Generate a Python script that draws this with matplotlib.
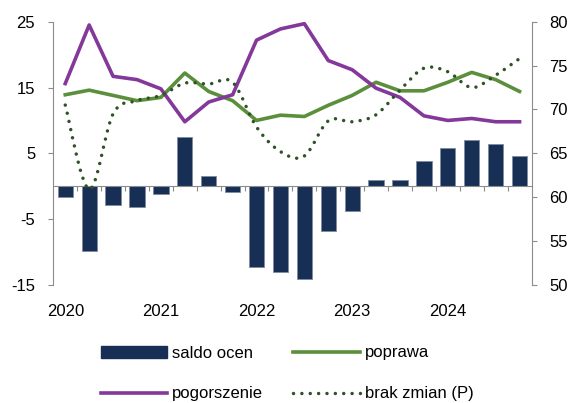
import numpy as np
import matplotlib
matplotlib.use("Agg")
import matplotlib.pyplot as plt
from matplotlib.path import Path
from matplotlib.patches import PathPatch, Patch
from matplotlib.lines import Line2D

# Quarterly survey results, 2020 Q1 - 2024 Q4
quarters = [f"{y} Q{q}" for y in range(2020, 2025) for q in range(1, 5)]
year_labels = ["2020", "2021", "2022", "2023", "2024"]

saldo = [-1.7, -9.9, -2.9, -3.2, -1.2, 7.5, 1.6, -0.9, -12.2, -13.1,
         -14.1, -6.8, -3.8, 0.9, 1.0, 3.8, 5.8, 7.0, 6.4, 4.6]
poprawa = [13.9, 14.6, 13.8, 13.0, 13.5, 17.2, 14.4, 13.0, 10.0, 10.8,
           10.6, 12.3, 13.8, 15.8, 14.5, 14.5, 15.8, 17.3, 16.2, 14.4]
pogorszenie = [15.6, 24.5, 16.7, 16.2, 14.8, 9.8, 12.8, 13.9, 22.2, 23.9,
               24.7, 19.1, 17.7, 14.9, 13.5, 10.7, 10.0, 10.3, 9.8, 9.8]
brak_zmian = [70.5, 60.9, 69.5, 71.0, 71.6, 73.0, 72.9, 73.1, 68.0, 65.2,
              64.7, 68.7, 68.6, 69.4, 72.2, 74.7, 74.3, 72.5, 73.9, 75.8]

NAVY = "#172E55"
GREEN = "#5B8F3C"
PURPLE = "#84389A"
DOT = "#2E5327"
GRAY = "#8C8C8C"

plt.rcParams["font.family"] = ["Liberation Sans", "DejaVu Sans"]
FS = 12.0

W, H = 569, 403
fig = plt.figure(figsize=(W / 100, H / 100), dpi=100)
x0, x1, ytop, ybot = 53.3, 531.5, 21.7, 285.0
ax = fig.add_axes([x0 / W, 1 - ybot / H, (x1 - x0) / W, (ybot - ytop) / H])
ax2 = ax.twinx()

x = np.arange(len(quarters))

ax.bar(x, saldo, width=0.64, color=NAVY, edgecolor="#7f8ba0", linewidth=0.6, zorder=2)
ax.plot(x, poprawa, color=GREEN, lw=2.6, solid_joinstyle="round", zorder=3)
ax.plot(x, pogorszenie, color=PURPLE, lw=2.6, solid_joinstyle="round", zorder=3)


def smooth_path(xs, ys):
    pts = np.column_stack([xs, ys]).astype(float)
    n = len(pts)
    verts = [pts[0]]
    codes = [Path.MOVETO]
    for i in range(n - 1):
        p0 = pts[i - 1] if i > 0 else pts[i]
        p1, p2 = pts[i], pts[i + 1]
        p3 = pts[i + 2] if i + 2 < n else pts[i + 1]
        verts += [p1 + (p2 - p0) / 6, p2 - (p3 - p1) / 6, p2]
        codes += [Path.CURVE4] * 3
    return Path(verts, codes)


dot_style = (0, (0.01, 2.4))
ax2.add_patch(PathPatch(smooth_path(x, brak_zmian), fill=False, edgecolor=DOT,
                        lw=2.5, linestyle=dot_style, capstyle="round", zorder=3))

# left axis
ax.set_xlim(-0.5, len(quarters) - 0.5)
ax.set_ylim(-15, 25)
ax.set_yticks([-15, -5, 5, 15, 25])
ax.set_yticklabels(["-15", "-5", "5", "15", "25"])
ax2.set_ylim(50, 80)
ax2.set_yticks([50, 55, 60, 65, 70, 75, 80])

for a in (ax, ax2):
    for s in a.spines.values():
        s.set_visible(False)
    a.patch.set_visible(False)

ax.spines["left"].set_visible(True)
ax.spines["left"].set_color(GRAY)
ax.spines["bottom"].set_visible(True)
ax.spines["bottom"].set_position(("data", 0))
ax.spines["bottom"].set_color(GRAY)
ax2.spines["right"].set_visible(True)
ax2.spines["right"].set_color(GRAY)

ax.tick_params(axis="y", direction="out", length=3.6, width=0.8, color=GRAY,
               pad=9.4, labelsize=FS)
ax2.tick_params(axis="y", direction="out", length=3.6, width=0.8, color=GRAY,
                pad=9.0, labelsize=FS)

# category boundaries on the zero line
ax.set_xticks(np.arange(0.5, len(quarters) - 1, 1.0))
ax.set_xticklabels([])
ax.tick_params(axis="x", direction="out", length=3.6, width=0.8, color=GRAY)

# year labels under the plot area
sec = ax.secondary_xaxis("bottom")
sec.set_xticks(x[::4])
sec.set_xticklabels(year_labels)
sec.tick_params(axis="x", length=0, pad=13.5, labelsize=FS)
sec.spines["bottom"].set_visible(False)

handles = [
    Patch(facecolor=NAVY, edgecolor=NAVY),
    Line2D([], [], color=PURPLE, lw=2.6),
    Line2D([], [], color=GREEN, lw=2.6),
    Line2D([], [], color=DOT, lw=2.5, linestyle=dot_style, dash_capstyle="round"),
]
labels = ["saldo ocen", "pogorszenie", "poprawa", "brak zmian (P)"]
fig.legend(handles, labels, ncol=2, loc="upper left",
           bbox_to_anchor=(100.5 / W, 1 - 345.5 / H), frameon=False,
           fontsize=FS, borderpad=0, borderaxespad=0, handlelength=4.0,
           handleheight=0.7, handletextpad=0.3, columnspacing=1.8,
           labelspacing=1.55)

fig.savefig("out.png", dpi=100)
